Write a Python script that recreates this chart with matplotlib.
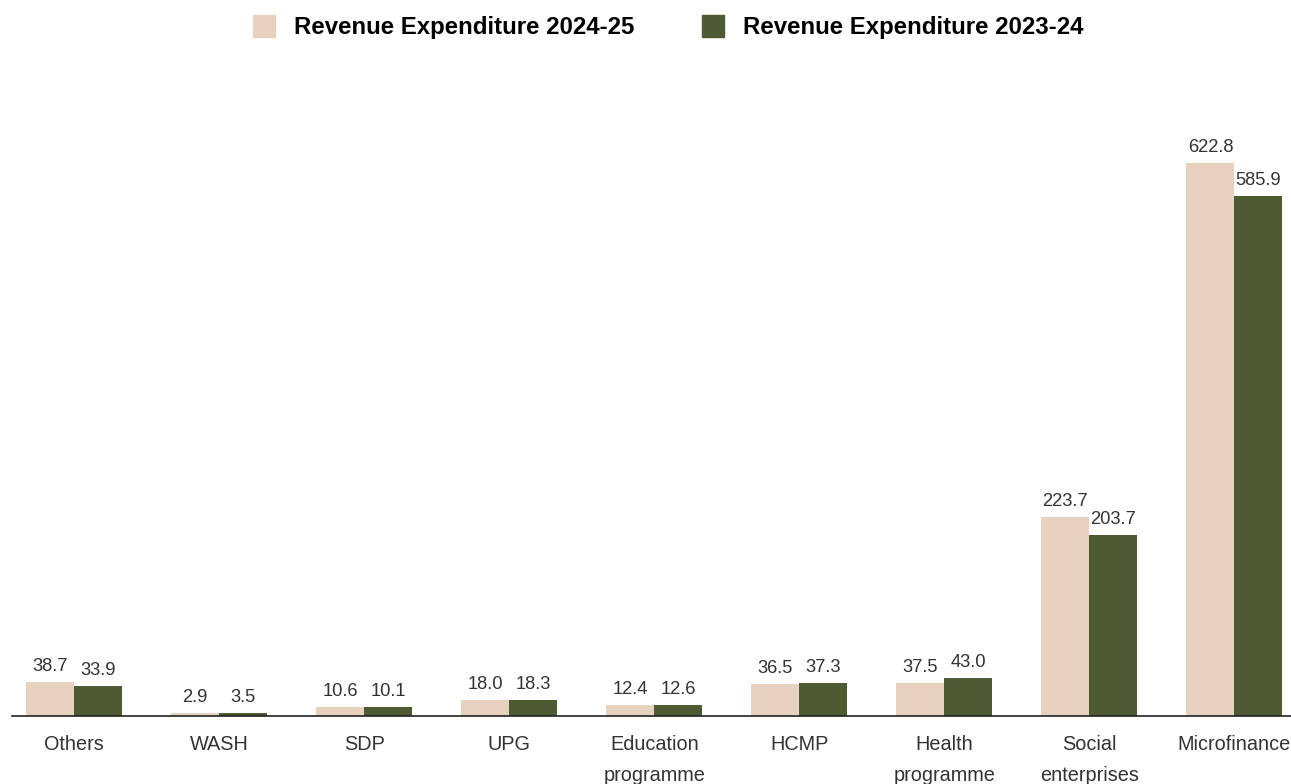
import matplotlib.pyplot as plt
import numpy as np
from matplotlib.patches import Patch

plt.rcParams['font.family'] = ['Liberation Sans', 'DejaVu Sans']

categories = ["Others", "WASH", "SDP", "UPG", "Education\nprogramme", "HCMP",
              "Health\nprogramme", "Social\nenterprises", "Microfinance"]
exp_2024_25 = [38.7, 2.9, 10.6, 18.0, 12.4, 36.5, 37.5, 223.7, 622.8]
exp_2023_24 = [33.9, 3.5, 10.1, 18.3, 12.6, 37.3, 43.0, 203.7, 585.9]

c_new = "#E6D2BE"
c_old = "#4E5A31"

fig = plt.figure(figsize=(12.91, 7.84), dpi=100)
ax = fig.add_axes([12 / 1291, 1 - 716 / 784, 1 - 12 / 1291, 656 / 784])

x = np.arange(len(categories))
w = 0.331
b1 = ax.bar(x - w / 2, exp_2024_25, w, color=c_new)
b2 = ax.bar(x + w / 2, exp_2023_24, w, color=c_old)

for bars in (b1, b2):
    for r in bars:
        ax.annotate(f"{r.get_height():.1f}", (r.get_x() + r.get_width() / 2, r.get_height()),
                    xytext=(0, 5), textcoords="offset points", ha="center", va="bottom",
                    fontsize=13.2, color="#333333")

ax.set_xlim(-0.428, 8.39)
ax.set_ylim(0, 738.8)
ax.set_xticks(x)
ax.set_xticklabels(categories, fontsize=14.3, color="#333333", linespacing=1.75, va="top")
ax.tick_params(axis="x", length=0, pad=14)
ax.set_yticks([])
for s in ("top", "right", "left"):
    ax.spines[s].set_visible(False)
ax.spines["bottom"].set_color("#222222")
ax.spines["bottom"].set_linewidth(1.2)

handles = [Patch(color=c_new, label="Revenue Expenditure 2024-25"),
           Patch(color=c_old, label="Revenue Expenditure 2023-24")]
fig.legend(handles=handles, loc="center", bbox_to_anchor=(0.5175, 1 - 27 / 784), ncol=2,
           frameon=False, handlelength=0.92, handleheight=1.05, handletextpad=0.8,
           columnspacing=2.8, borderpad=0, prop={"weight": "bold", "size": 17.3})

fig.savefig("out.png", dpi=100)
